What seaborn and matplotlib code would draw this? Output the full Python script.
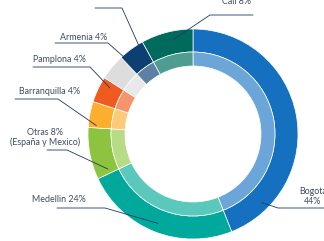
import numpy as np
import matplotlib
matplotlib.use("Agg")
import matplotlib.pyplot as plt
import seaborn as sns

# Data (clockwise from 12 o'clock)
cities = ["Bogota", "Medellin", "Otras", "Barranquilla", "Pamplona", "Armenia", "Cucuta", "Cali"]
shares = [44, 24, 8, 4, 4, 4, 4, 8]
outer_colors = ["#1570C0", "#00A99B", "#8CC43F", "#FBAF2C", "#F05A1E", "#DDDDDD", "#0E3F73", "#006A5C"]
inner_colors = ["#6CA6D9", "#5BC8BC", "#B8DC85", "#FDCB78", "#F6946C", "#E9E9E9", "#5E80A2", "#4F9C91"]
label_text = ["Bogota\n44%", "Medellin 24%", "Otras 8%\n(España y Mexico)", "Barranquilla 4%",
              "Pamplona 4%", "Armenia 4%", "Cucuta 4%", "Cali 8%"]

# Layout in pixels (y down): text centre, horizontal leader, end angle (deg clockwise from top), end radius
text_pos = [(313, 196.5), (59, 200), (45, 137.5), (50, 91), (59, 59), (84, 37), (119, -3), (236, 2)]
leader_h = [((324, 208), (278, 208)), ((57, 208), (105, 208)), ((47, 150), (67, 150)),
            ((15, 99), (58, 99)), ((33, 67), (90, 67)), ((55, 43), (108, 43)),
            ((95, 8), (122, 8)), ((253, 15), (210, 15))]
end_angle = [135, 201.5, 247.6, 275, 299, 319, 328, 349]
end_radius = [97, 96, 92, 97, 95, 91, 97, 97]

W, H = 324, 241
cx, cy = 193, 134
r_out, r_mid, r_in = 105, 82, 68

sns.set_style("white")
plt.rcParams["font.family"] = ["Lato", "DejaVu Sans"]

fig = plt.figure(figsize=(W / 100, H / 100), dpi=100)
ax = fig.add_axes([0, 0, 1, 1])

wp = dict(edgecolor="white", linewidth=0.5)
ax.pie(shares, radius=r_out, center=(cx, H - cy), startangle=90, counterclock=False,
       colors=outer_colors, wedgeprops=dict(width=r_out - r_mid, **wp))
ax.pie(shares, radius=r_mid, center=(cx, H - cy), startangle=90, counterclock=False,
       colors=inner_colors, wedgeprops=dict(width=r_mid - r_in, **wp))

text_color = "#3E4B60"
line_color = "#1F3864"
for txt, (tx, ty), (p0, p1), ang, rr in zip(label_text, text_pos, leader_h, end_angle, end_radius):
    ax.text(tx, H - ty, txt, ha="center", va="center", fontsize=6.4, color=text_color,
            linespacing=1.15)
    ex = cx + rr * np.sin(np.radians(ang))
    ey = cy - rr * np.cos(np.radians(ang))
    xs = [p0[0], p1[0], ex]
    ys = [H - p0[1], H - p1[1], H - ey]
    ax.plot(xs, ys, color=line_color, lw=0.6, solid_capstyle="round")

ax.set_xlim(0, W)
ax.set_ylim(0, H)
ax.set_aspect("equal")
ax.axis("off")

fig.savefig("out.png", dpi=100, facecolor="white")
